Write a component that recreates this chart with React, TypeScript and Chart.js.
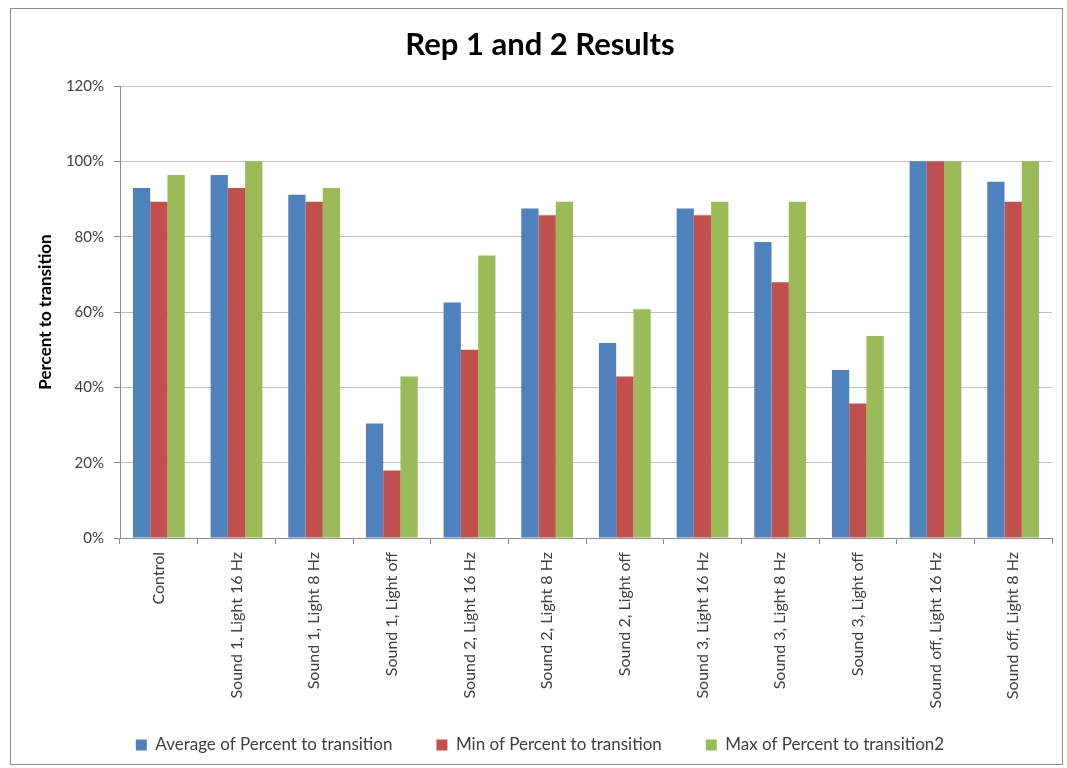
import React, { useEffect, useRef } from "react";
import { Chart, registerables } from "chart.js";

Chart.register(...registerables);

const categories = [
  "Control",
  "Sound 1, Light 16 Hz",
  "Sound 1, Light 8 Hz",
  "Sound 1, Light off",
  "Sound 2, Light 16 Hz",
  "Sound 2, Light 8 Hz",
  "Sound 2, Light off",
  "Sound 3, Light 16 Hz",
  "Sound 3, Light 8 Hz",
  "Sound 3, Light off",
  "Sound off, Light 16 Hz",
  "Sound off, Light 8 Hz",
];

const averageValues = [92.9, 96.4, 91.1, 30.4, 62.5, 87.5, 51.8, 87.5, 78.6, 44.6, 100, 94.6];
const minValues = [89.3, 92.9, 89.3, 17.9, 50.0, 85.7, 42.9, 85.7, 67.9, 35.7, 100, 89.3];
const maxValues = [96.4, 100, 92.9, 42.9, 75.0, 89.3, 60.7, 89.3, 89.3, 53.6, 100, 100];

const seriesNames = [
  "Average of Percent to transition",
  "Min of Percent to transition",
  "Max of Percent to transition2",
];
const seriesColors = ["#4F81BD", "#C0504D", "#9BBB59"];

const yTicks = [0, 20, 40, 60, 80, 100, 120];

const FONT = "Lato, 'Open Sans', sans-serif";
const TEXT = "#404040";

// White page with a thin grey frame around the chart.
const framePlugin = {
  id: "frame",
  beforeDraw(chart: Chart) {
    const { ctx, width, height } = chart;
    ctx.save();
    ctx.fillStyle = "#ffffff";
    ctx.fillRect(0, 0, width, height);
    ctx.strokeStyle = "#8c8c8c";
    ctx.lineWidth = 1;
    ctx.strokeRect(10.5, 8.5, 1052, 756);
    ctx.restore();
  },
};

export default function App() {
  const canvasRef = useRef<HTMLCanvasElement | null>(null);

  useEffect(() => {
    if (!canvasRef.current) return;
    const values = [averageValues, minValues, maxValues];
    const chart = new Chart(canvasRef.current, {
      type: "bar",
      data: {
        labels: categories,
        datasets: values.map((data, i) => ({
          label: seriesNames[i],
          data,
          backgroundColor: seriesColors[i],
          borderWidth: 0,
          categoryPercentage: 0.667,
          barPercentage: 1.0,
        })),
      },
      plugins: [framePlugin],
      options: {
        animation: false,
        responsive: false,
        devicePixelRatio: 1,
        layout: { padding: { left: 28, right: 15, top: 0, bottom: 4.5 } },
        plugins: {
          title: {
            display: true,
            text: "Rep 1 and 2 Results",
            color: "#000",
            font: { family: FONT, size: 31, weight: "bold" },
            padding: { top: 26.4, bottom: 22.4 },
          },
          legend: {
            position: "bottom",
            labels: {
              color: TEXT,
              font: { family: FONT, size: 17 },
              boxWidth: 11,
              boxHeight: 11,
              padding: 44,
            },
          },
          tooltip: { enabled: false },
        },
        scales: {
          x: {
            type: "category",
            grid: {
              display: true,
              offset: true,
              drawOnChartArea: false,
              drawTicks: true,
              tickLength: 6,
              color: "#8c8c8c",
            },
            border: { display: true, color: "#8c8c8c" },
            ticks: {
              autoSkip: false,
              minRotation: 90,
              maxRotation: 90,
              padding: 8,
              color: TEXT,
              font: { family: FONT, size: 16 },
            },
            afterFit: (scale: any) => {
              scale.height = 154.5;
              // long category names run past the axis box into the legend gap
              scale._computeLabelArea = () => undefined;
            },
          },
          y: {
            min: 0,
            max: 120,
            afterBuildTicks: (scale: any) => {
              scale.ticks = yTicks.map((v) => ({ value: v }));
            },
            grid: {
              color: "#bfbfbf",
              tickLength: 6,
              tickColor: "#8c8c8c",
            },
            border: { display: true, color: "#8c8c8c" },
            ticks: {
              padding: 10,
              color: TEXT,
              font: { family: FONT, size: 15 },
              callback: (v: any) => `${v}%`,
            },
            title: {
              display: true,
              text: "Percent to transition",
              color: "#000",
              font: { family: FONT, size: 17, weight: "bold" },
              padding: { top: 7, bottom: 4 },
            },
            afterFit: (scale: any) => {
              scale.width = 92;
            },
          },
        },
      },
    });
    return () => chart.destroy();
  }, []);

  return (
    <div style={{ position: "absolute", left: 0, top: 0, width: 1067, height: 768 }}>
      <canvas ref={canvasRef} width={1067} height={768} style={{ display: "block" }} />
    </div>
  );
}
